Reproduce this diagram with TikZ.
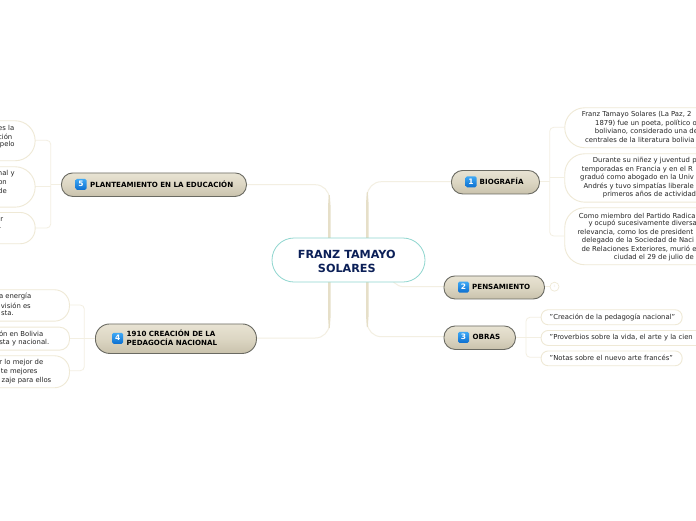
\documentclass[tikz,border=0pt]{standalone}
\usepackage{fontspec}
\setmainfont{DejaVu Sans}
\usetikzlibrary{calc}
\definecolor{conn}{HTML}{E6DFC8}
\definecolor{connlight}{HTML}{F3EFE2}
\definecolor{boxline}{HTML}{EFE9D6}
\definecolor{topedge}{HTML}{6A6A62}
\definecolor{titleblue}{HTML}{0B1F57}
\definecolor{centreline}{HTML}{8FD6CF}
\definecolor{brtop}{HTML}{E8E3D3}
\definecolor{brmid}{HTML}{DCD6C3}
\definecolor{brbot}{HTML}{C9C2AC}
\definecolor{ictop}{HTML}{3FA9F5}
\definecolor{icbot}{HTML}{0C6FD0}
\tikzset{
  x=1pt,y=-1pt,
  trunk/.style={fill=conn,draw=none},
  limb/.style={draw=connlight,line width=1pt,rounded corners=14pt},
  twig/.style={draw=connlight,line width=.8pt,rounded corners=4pt},
  central/.style={draw=centreline,fill=white,line width=.8pt,rounded corners=22pt,minimum width=153pt,minimum height=44pt,inner sep=0pt},
  ctext/.style={inner sep=0pt,align=center,font=\fontsize{11.2}{13}\selectfont\bfseries,text=titleblue},
  branch/.style={draw=topedge,line width=.9pt,top color=brtop,bottom color=brbot,middle color=brmid,inner sep=0pt},
  icon/.style={rounded corners=1.5pt,minimum size=11pt,inner sep=0pt,top color=ictop,bottom color=icbot,text=white,font=\fontsize{7.5}{8}\selectfont\bfseries},
  blabel/.style={font=\fontsize{7.1}{9}\selectfont\bfseries,text=black,inner sep=0pt,align=left},
  leaf/.style={draw=boxline,fill=white,line width=.9pt,inner sep=0pt},
  ltext/.style={font=\fontsize{6.85}{8}\selectfont,text=black!85,inner sep=0pt},
}
\newcommand{\leafbox}[6]{% name, x1, y1, x2, y2, radius
  \node[leaf,rounded corners=#6pt,minimum width=#4pt-#2pt,minimum height=#5pt-#3pt,anchor=north west] (#1) at (#2,#3) {};}
\newcommand{\linew}[4]{\node[ltext,anchor=west] (#1) at (#2,#3) {#4};}
\newcommand{\linee}[4]{\node[ltext,anchor=east] (#1) at (#2,#3) {#4};}
\newcommand{\branchbox}[7]{% name,x1,y1,x2,y2,iconx,number
  \pgfmathsetmacro{\brrad}{(#5-#3)/2-0.5}
  \node[branch,rounded corners=\brrad pt,minimum width=#4pt-#2pt,minimum height=#5pt-#3pt,anchor=north west] (#1) at (#2,#3) {};
  \node[icon] (#1i) at (#6,{(#3+#5)/2}) {#7};}
\newcommand{\taper}[3]{% start, full-width end, thin end
  \fill[trunk] ($(#1)+(-1.25,0)$) -- ($(#2)+(-1.25,0)$) -- ($(#3)+(-.5,0)$) -- ($(#3)+(.5,0)$) -- ($(#2)+(1.25,0)$) -- ($(#1)+(1.25,0)$) -- cycle;}
\begin{document}
\begin{tikzpicture}
\useasboundingbox (0,0) rectangle (696,520);
\clip (0,0) rectangle (696,520);
\fill[white] (0,0) rectangle (696,520);

\coordinate (cR) at (367.3,260);
\coordinate (cL) at (329.3,260);
\coordinate (bioW) at (451,181.7);
\coordinate (obrasW) at (444,336.7);
\coordinate (penW) at (444,286.7);
\coordinate (planE) at (246,184.7);
\coordinate (nacE) at (256,338);
\coordinate (cB) at (390,262);
\coordinate (rTopA) at (367.3,192);
\coordinate (rBotA) at (367.3,327);
\coordinate (lTopA) at (329.3,195);
\coordinate (lBotA) at (329.3,328);
\coordinate (rTopB) at (367.3,203);
\coordinate (rBotB) at (367.3,316);
\coordinate (lTopB) at (329.3,206);
\coordinate (lBotB) at (329.3,317);

\draw[limb] (cR) |- (bioW);
\draw[limb] (cR) |- (obrasW);
\draw[limb] (cL) |- (planE);
\draw[limb] (cL) |- (nacE);
\draw[limb] (cB) |- (penW);
\taper{cR}{rTopB}{rTopA}
\taper{cR}{rBotB}{rBotA}
\taper{cL}{lTopB}{lTopA}
\taper{cL}{lBotB}{lBotA}

% BIOGRAFIA twigs
\coordinate (t1) at (549.7,181);
\coordinate (t1m) at (549.7,177.3);
\draw[twig] (538,181) -- (t1);
\draw[twig] (t1m) -- (564,177.3);
\draw[twig] (t1) |- (564,127.3);
\draw[twig] (t1) |- (564,236);
% OBRAS twigs
\coordinate (t3) at (526,337);
\draw[twig] (515,337) -- (541,337);
\draw[twig] (t3) |- (541,317.3);
\draw[twig] (t3) |- (541,357.3);
% PLANTEAMIENTO twigs
\coordinate (t5) at (50.7,184.7);
\coordinate (t5m) at (50.7,186);
\draw[twig] (61,184.7) -- (t5);
\draw[twig] (t5m) -- (35,186);
\draw[twig] (t5) |- (35,140.3);
\draw[twig] (t5) |- (35,228);
% 1910 twigs
\coordinate (t4) at (84.3,338);
\draw[twig] (95,338) -- (69,338);
\draw[twig] (t4) |- (69,305);
\draw[twig] (t4) |- (69,370.7);
% PENSAMIENTO stub
\draw[twig] (544,286.7) -- (550,286.7);

\node[central] (c) at (348.5,260) {};
\node[ctext] (ct) at (346.8,261.3) {FRANZ TAMAYO\\[0.3pt]SOLARES};

\branchbox{bio}{451}{170}{539}{193.5}{471}{1}
\node[blabel,anchor=west] (biot) at (479.5,181.7) {BIOGRAFÍA};
\branchbox{pen}{443.5}{275.5}{544}{298.5}{463.5}{2}
\node[blabel,anchor=west] (pent) at (472,287) {PENSAMIENTO};
\branchbox{obr}{443.5}{325.5}{515}{349}{463.5}{3}
\node[blabel,anchor=west] (obrt) at (472.5,337.3) {OBRAS};
\branchbox{nac}{95}{323.5}{256}{353}{117.7}{4}
\node[blabel,anchor=west] (nact) at (126.5,338.2) {1910 CREACIÓN DE LA\\PEDAGOCÍA NACIONAL};
\branchbox{pla}{61}{172.5}{246}{196}{81}{5}
\node[blabel,anchor=west] (plat) at (90,184.5) {PLANTEAMIENTO EN LA EDUCACIÓN};

\node[draw=boxline,fill=white,circle,minimum size=9pt,inner sep=0pt,line width=.7pt,font=\fontsize{3}{3}\selectfont,text=boxline] (penc) at (554.5,286.7) {3};

\leafbox{r1}{564.3}{107.3}{730}{147.3}{20}
\leafbox{r2}{564.3}{153.3}{730}{201.7}{20}
\leafbox{r3}{564.3}{207.3}{730}{264.3}{20}
\linew{r1a}{581.7}{114.3}{Franz Tamayo Solares (La Paz, 2}
\linew{r1b}{595}{123.3}{1879) fue un poeta, político o}
\linew{r1c}{594.7}{131.7}{boliviano, considerado una de}
\linew{r1d}{585}{140.3}{centrales de la literatura bolivia}
\linew{r2a}{592.7}{160.7}{Durante su niñez y juventud p}
\linew{r2b}{581.7}{169.7}{temporadas en Francia y en el R}
\linew{r2c}{580}{177.7}{graduó como abogado en la Univ}
\linew{r2d}{583.3}{186.3}{Andrés y tuvo simpatías liberale}
\linew{r2e}{602.7}{194.7}{primeros años de actividad}
\linew{r3a}{578.7}{215.7}{Como miembro del Partido Radica}
\linew{r3b}{588.3}{223.7}{y ocupó sucesivamente diversa}
\linew{r3c}{577.3}{232.3}{relevancia, como los de president}
\linew{r3d}{581.7}{240.7}{delegado de la Sociedad de Naci}
\linew{r3e}{581.3}{249.3}{de Relaciones Exteriores, murió e}
\linew{r3f}{613.7}{257.7}{ciudad el 29 de julio de}

\leafbox{o1}{540.7}{309.3}{681.7}{324.3}{7}
\leafbox{o2}{540.7}{330}{720}{345}{7}
\leafbox{o3}{540.7}{350.5}{681.7}{365.3}{7}
\linew{o1a}{549.5}{317}{"Creación de la pedagogía nacional"}
\linew{o2a}{549.5}{337.3}{"Proverbios sobre la vida, el arte y la cien}
\linew{o3a}{549.5}{358}{"Notas sobre el nuevo arte francés"}

\leafbox{l1}{-40}{120.3}{34.7}{160.3}{20}
\leafbox{l2}{-40}{166.3}{34.7}{206.7}{20}
\leafbox{l3}{-40}{212}{34.7}{243.3}{15}
\linee{l1a}{14.5}{127.5}{es la}
\linee{l1b}{12.5}{136.5}{ción}
\linee{l1c}{14.8}{144.5}{pelo}
\linee{l2a}{14.8}{173.5}{nal y}
\linee{l2b}{7}{182.5}{on}
\linee{l2c}{7}{190.5}{de}
\linee{l3a}{3.5}{219.5}{r}
\linee{l3b}{1.5}{228}{.}

\leafbox{n1}{-40}{289.3}{69}{320.7}{15}
\leafbox{n2}{-40}{326.7}{69}{349.7}{10}
\leafbox{n3}{-40}{355.3}{69}{387.3}{15}
\linee{n1a}{31.5}{296.5}{a energía}
\linee{n1b}{31}{305.5}{visión es}
\linee{n1c}{14}{313.5}{sta.}
\linee{n2a}{43.5}{334}{ón en Bolivia}
\linee{n2b}{49.5}{342.5}{sta y nacional.}
\linee{n3a}{43.5}{363}{r lo mejor de}
\linee{n3b}{37.7}{371.5}{te mejores}
\linee{n3c}{51.5}{380.5}{zaje para ellos}
\end{tikzpicture}
\end{document}
